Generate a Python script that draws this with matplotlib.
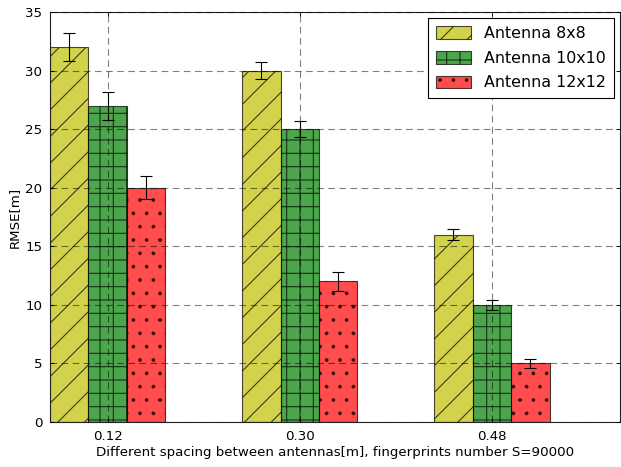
import matplotlib
matplotlib.use("Agg")
import matplotlib.pyplot as plt
import numpy as np

spacings = [0.12, 0.30, 0.48]
tick_labels = ["0.12", "0.30", "0.48"]
series_names = ["Antenna 8x8", "Antenna 10x10", "Antenna 12x12"]
rmse_8x8 = [32, 30, 16]
rmse_10x10 = [27, 25, 10]
rmse_12x12 = [20, 12, 5]
err_8x8 = [1.2, 0.7, 0.5]
err_10x10 = [1.2, 0.7, 0.45]
err_12x12 = [1.0, 0.8, 0.4]

values = [rmse_8x8, rmse_10x10, rmse_12x12]
errors = [err_8x8, err_10x10, err_12x12]
colors = ["y", "g", "r"]
hatches = ["/", "+", "."]

plt.rcParams["font.family"] = ["DejaVu Sans"]
plt.rcParams["hatch.linewidth"] = 1.0

dpi = 80
fig = plt.figure(figsize=(621 / dpi, 467 / dpi), dpi=dpi)
ax = fig.add_axes([50 / 621, 45 / 467, 570 / 621, 410 / 467])

width = 0.036
x = np.array(spacings)
for i, (vals, errs) in enumerate(zip(values, errors)):
    ax.bar(x + (i - 1) * width, vals, width, yerr=errs, color=colors[i],
           alpha=0.7, edgecolor="k", linewidth=1.0, hatch=hatches[i],
           label=series_names[i],
           error_kw=dict(ecolor="k", capsize=5, elinewidth=1.0, capthick=1.0),
           zorder=1)

ax.set_xlim(0.066, 0.6)
ax.set_ylim(0, 35)
ax.set_xticks(spacings)
ax.set_xticklabels(tick_labels)
ax.set_yticks(np.arange(0, 36, 5))
ax.tick_params(direction="in", top=True, right=True, labelsize=12, length=4, pad=7)
ax.set_axisbelow(False)
ax.grid(True, color="k", alpha=0.5, linestyle=(0, (6, 4)), linewidth=1.0)
for s in ax.spines.values():
    s.set_linewidth(1.0)
    s.set_color("#222222")

ax.set_xlabel("Different spacing between antennas[m], fingerprints number S=90000",
              fontsize=12, labelpad=3)
ax.set_ylabel("RMSE[m]", fontsize=12, labelpad=4)

leg = ax.legend(loc="upper right", fontsize=14.3, fancybox=False, framealpha=1.0,
                edgecolor="k", borderaxespad=0.4, labelspacing=0.6,
                handlelength=2.2, handleheight=0.85, borderpad=0.5)
leg.get_frame().set_linewidth(1.0)

fig.savefig("out.png", dpi=dpi)
